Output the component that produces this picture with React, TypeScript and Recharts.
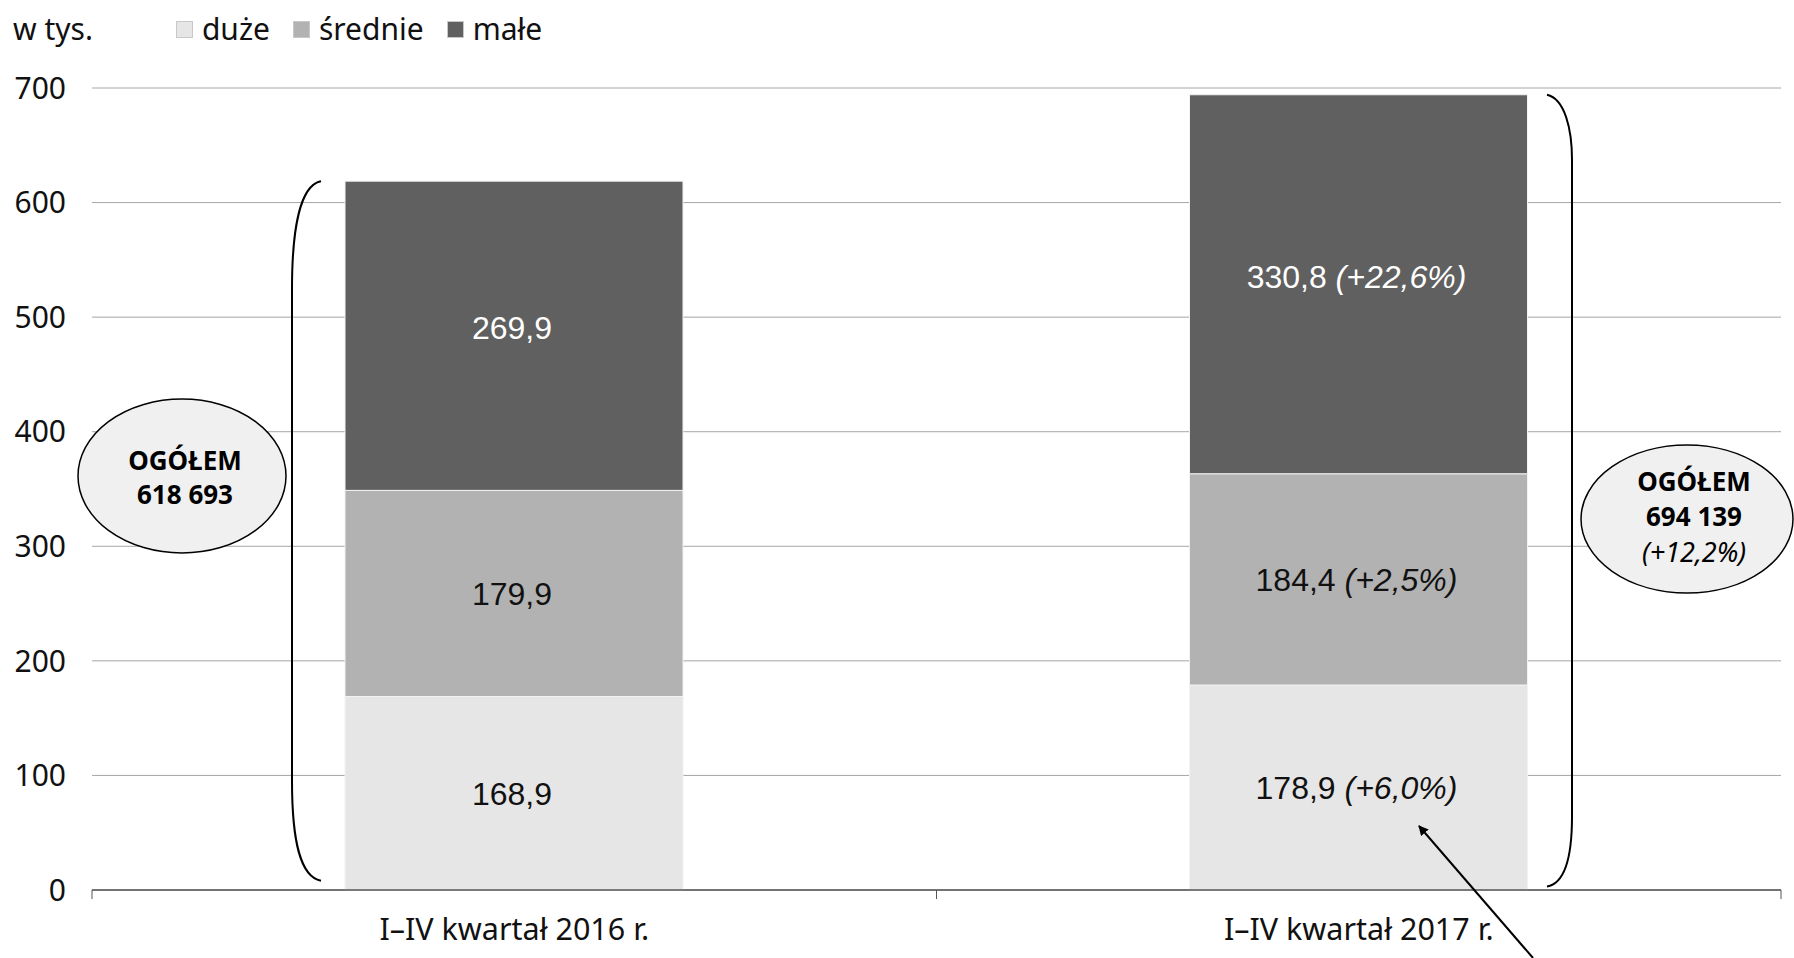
import React from "react";
import { Bar, BarChart, CartesianGrid, LabelList, XAxis, YAxis } from "recharts";

const categories = ["I–IV kwartał 2016 r.", "I–IV kwartał 2017 r."];
const duze = [168.9, 178.9];
const srednie = [179.9, 184.4];
const male = [269.9, 330.8];
const duzeChange = ["", "(+6,0%)"];
const srednieChange = ["", "(+2,5%)"];
const maleChange = ["", "(+22,6%)"];
const totals = ["618 693", "694 139"];
const totalChange = ["", "(+12,2%)"];
const yTicks = [0, 100, 200, 300, 400, 500, 600, 700];

const W = 1794;
const H = 958;
const PLOT_TOP = 88;
const PLOT_BOTTOM = 890;
const PLOT_LEFT = 92;
const PLOT_RIGHT = 1781;
const Y_MAX = 700;
const HALF_BAND = (PLOT_RIGHT - PLOT_LEFT) / categories.length / 2;

const FONT = "'Noto Sans', sans-serif";
const LABEL_FONT = "'Liberation Sans', Arial, sans-serif";

const data = categories.map((name, i) => ({
  name,
  duze: duze[i],
  srednie: srednie[i],
  male: male[i],
}));

const series = [
  { key: "duze", name: "duże", color: "#e6e6e6", text: "#111", changes: duzeChange, dy: 0 },
  { key: "srednie", name: "średnie", color: "#b2b2b2", text: "#111", changes: srednieChange, dy: 0 },
  { key: "male", name: "małe", color: "#606060", text: "#fff", changes: maleChange, dy: -8 },
];

const fmt = (v: number) => v.toFixed(1).replace(".", ",");

const yPx = (v: number) => PLOT_BOTTOM - (v / Y_MAX) * (PLOT_BOTTOM - PLOT_TOP);

function makeLabel(s: (typeof series)[number]) {
  return (props: any) => {
    const { x, y, width, height, value, index } = props;
    const cx = Number(x) + Number(width) / 2 - 2;
    const cy = Number(y) + Number(height) / 2 + s.dy;
    const chg = s.changes[index] || "";
    return (
      <text
        x={cx}
        y={cy}
        dy="0.36em"
        textAnchor="middle"
        fill={s.text}
        fontSize={32}
        fontFamily={LABEL_FONT}
      >
        {fmt(Number(value))}
        {chg ? <tspan fontStyle="italic">{" " + chg}</tspan> : null}
      </text>
    );
  };
}

function CategoryTick(props: any) {
  const { x, payload, index } = props;
  const axisY = PLOT_BOTTOM;
  return (
    <g>
      <line x1={x - HALF_BAND} x2={x - HALF_BAND} y1={axisY} y2={axisY + 9} stroke="#555" />
      {index === categories.length - 1 ? (
        <line x1={x + HALF_BAND} x2={x + HALF_BAND} y1={axisY} y2={axisY + 9} stroke="#555" />
      ) : null}
      <text x={x} y={axisY + 50} textAnchor="middle" fill="#111" fontSize={30.5} fontFamily={FONT}>
        {payload.value}
      </text>
    </g>
  );
}

function Annotations() {
  const top0 = yPx(duze[0] + srednie[0] + male[0]);
  const top1 = yPx(duze[1] + srednie[1] + male[1]);
  const bot = yPx(8);
  const bot1 = yPx(3);
  return (
    <svg
      width={W}
      height={H}
      style={{ position: "absolute", left: 0, top: 0, pointerEvents: "none" }}
    >
      <defs>
        <marker id="head" markerWidth="10" markerHeight="10" refX="9" refY="5" orient="auto" markerUnits="userSpaceOnUse">
          <path d="M0,0 L10,5 L0,10 z" fill="#000" />
        </marker>
      </defs>
      <path
        d={`M321,${top0} C300,${top0 + 4} 292,${top0 + 48} 292,${top0 + 108} L292,${bot - 100} C292,${bot - 40} 300,${bot - 4} 321,${bot}`}
        fill="none"
        stroke="#000"
        strokeWidth={2}
      />
      <path
        d={`M1547,${top1} C1565,${top1 + 4} 1572,${top1 + 35} 1572,${top1 + 65} L1572,${bot1 - 70} C1572,${bot1 - 30} 1565,${bot1 - 3} 1547,${bot1}`}
        fill="none"
        stroke="#000"
        strokeWidth={2}
      />
      <ellipse cx={182} cy={476} rx={104} ry={77} fill="#f0f0f0" stroke="#000" strokeWidth={1.5} />
      <text x={185} y={461} dy="0.36em" textAnchor="middle" fontFamily={FONT} fontWeight="bold" fontSize={26} fill="#000">
        OGÓŁEM
      </text>
      <text x={185} y={495} dy="0.36em" textAnchor="middle" fontFamily={FONT} fontWeight="bold" fontSize={26} fill="#000">
        {totals[0]}
      </text>
      <ellipse cx={1687} cy={519} rx={106} ry={74} fill="#f0f0f0" stroke="#000" strokeWidth={1.5} />
      <text x={1694} y={482} dy="0.36em" textAnchor="middle" fontFamily={FONT} fontWeight="bold" fontSize={26} fill="#000">
        OGÓŁEM
      </text>
      <text x={1694} y={517} dy="0.36em" textAnchor="middle" fontFamily={FONT} fontWeight="bold" fontSize={26} fill="#000">
        {totals[1]}
      </text>
      <text x={1694} y={552} dy="0.36em" textAnchor="middle" fontFamily={FONT} fontStyle="italic" fontSize={27} fill="#000">
        {totalChange[1]}
      </text>
      <line x1={1533} y1={958} x2={1419} y2={826} stroke="#000" strokeWidth={2} markerEnd="url(#head)" />
    </svg>
  );
}

function LegendBox() {
  return (
    <div
      style={{
        position: "absolute",
        left: 13,
        top: 9,
        display: "flex",
        alignItems: "center",
        fontFamily: FONT,
        fontSize: 30,
        color: "#111",
        lineHeight: "40px",
      }}
    >
      <span style={{ marginRight: 83 }}>w tys.</span>
      {series.map((s) => (
        <span key={s.key} style={{ display: "flex", alignItems: "center", marginRight: 23 }}>
          <span
            style={{
              width: 17,
              height: 17,
              background: s.color,
              border: "1px solid #c8c8c8",
              boxSizing: "border-box",
              marginRight: 9,
            }}
          />
          {s.name}
        </span>
      ))}
    </div>
  );
}

export default function App() {
  return (
    <div style={{ position: "absolute", left: 0, top: 0, width: W, height: H, background: "#fff" }}>
      <BarChart
        width={W}
        height={H}
        data={data}
        margin={{ top: PLOT_TOP, right: W - PLOT_RIGHT, bottom: H - PLOT_BOTTOM - 40, left: 0 }}
        barSize={338}
      >
        <CartesianGrid vertical={false} stroke="#a6a6a6" />
        <XAxis
          dataKey="name"
          height={40}
          axisLine={{ stroke: "#555", strokeWidth: 1.5 }}
          tickLine={false}
          tick={<CategoryTick />}
          interval={0}
        />
        <YAxis
          width={PLOT_LEFT}
          domain={[0, Y_MAX]}
          ticks={yTicks}
          axisLine={false}
          tickLine={false}
          tickMargin={20}
          tick={{ fill: "#111", fontSize: 30, fontFamily: FONT }}
        />
        {series.map((s) => (
          <Bar
            key={s.key}
            dataKey={s.key}
            stackId="a"
            fill={s.color}
            stroke="#f2f2f2"
            strokeWidth={1}
            isAnimationActive={false}
          >
            <LabelList dataKey={s.key} content={makeLabel(s)} />
          </Bar>
        ))}
      </BarChart>
      <LegendBox />
      <Annotations />
    </div>
  );
}
